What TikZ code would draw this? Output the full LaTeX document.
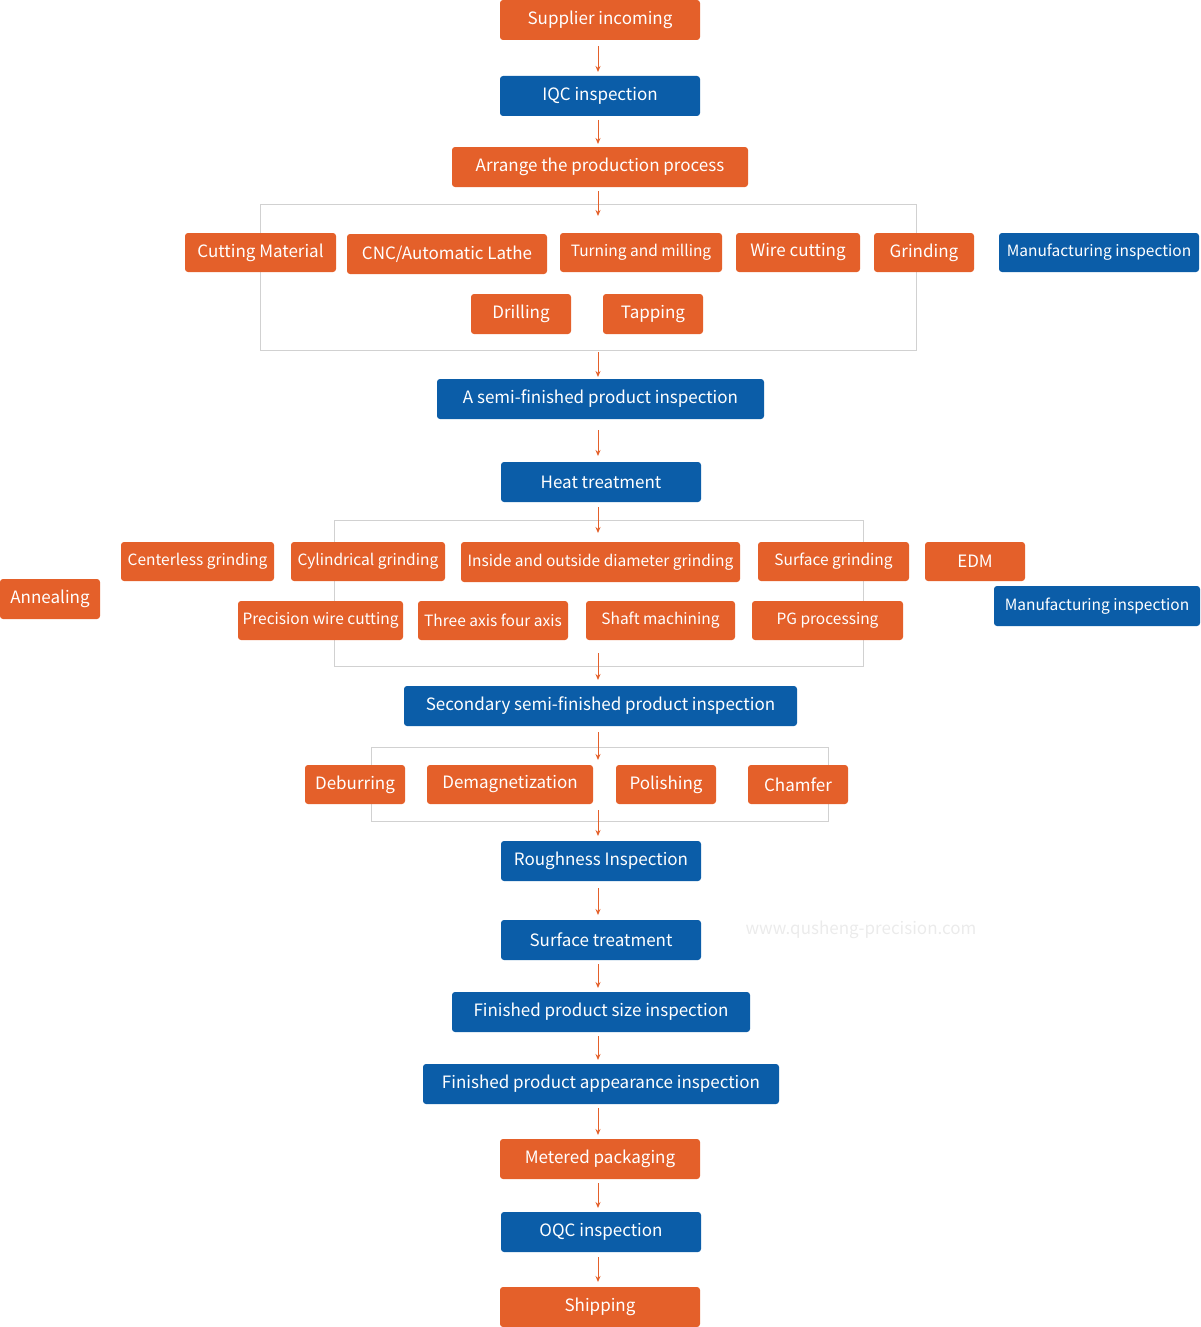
\documentclass[tikz,border=0pt]{standalone}
\usepackage{fontspec}
\setmainfont{Noto Sans CJK SC}
\usetikzlibrary{arrows.meta}
\definecolor{org}{HTML}{E4602A}
\definecolor{blu}{HTML}{0B5DA8}
\tikzset{bx/.style={rounded corners=3pt,text=white,inner sep=0pt,align=center},
 frm/.style={draw=black!18,line width=0.8pt},
 arr/.style={draw=org,line width=1pt,-{Stealth[length=6pt,width=5pt]}}}
\newcommand{\B}[8][17]{\node[bx,fill=#7,minimum width={(#4-#2)*1pt},minimum height={(#5-#3)*1pt},font=\fontsize{#1pt}{#1pt}\selectfont] (#6) at ({(#2+#4)/2},{(#3+#5)/2}) {\raisebox{-2.5pt}{#8}};}
\begin{document}
\begin{tikzpicture}[x=1pt,y=-1pt]
\useasboundingbox (0,0) rectangle (1201,1327);
\draw[frm] (260,204) rectangle (916,350);
\draw[frm] (334,520) rectangle (863,666);
\draw[frm] (371,747) rectangle (828,821);
\B{500}{0}{700}{40}{sup}{org}{Supplier incoming}
\B{500}{76}{700}{116}{iqc}{blu}{IQC inspection}
\B{452}{147}{748}{187}{arr}{org}{Arrange the production process}
\B{185}{233}{336}{272}{cut}{org}{Cutting Material}
\B{347}{234}{547}{274}{cnc}{org}{CNC/Automatic Lathe}
\B[15.5]{560}{233}{722}{272}{turn}{org}{Turning and milling}
\B{736}{233}{860}{272}{wire}{org}{Wire cutting}
\B{874}{233}{974}{272}{grind}{org}{Grinding}
\B[15.5]{999}{233}{1199}{272}{mi1}{blu}{Manufacturing inspection}
\B{471}{294}{571}{334}{drill}{org}{Drilling}
\B{603}{294}{703}{334}{tap}{org}{Tapping}
\B{437}{379}{764}{419}{semi}{blu}{A semi-finished product inspection}
\B{501}{462}{701}{502}{heat}{blu}{Heat treatment}
\B[15.5]{121}{542}{274}{581}{cent}{org}{Centerless grinding}
\B[15.5]{291}{542}{445}{581}{cyl}{org}{Cylindrical grinding}
\B[15.5]{461}{542}{740}{582}{ins}{org}{Inside and outside diameter grinding}
\B[15.5]{758}{542}{909}{581}{surf}{org}{Surface grinding}
\B{925}{542}{1025}{581}{edm}{org}{EDM}
\B{0}{579}{100}{619}{ann}{org}{Annealing}
\B[15.5]{994}{586}{1200}{626}{mi2}{blu}{Manufacturing inspection}
\B[15.5]{238}{601}{403}{640}{prec}{org}{Precision wire cutting}
\B[15.5]{418}{601}{568}{640}{three}{org}{Three axis four axis}
\B[15.5]{586}{601}{735}{640}{shaft}{org}{Shaft machining}
\B[15.5]{752}{601}{903}{640}{pg}{org}{PG processing}
\B{404}{686}{797}{726}{sec}{blu}{Secondary semi-finished product inspection}
\B{305}{765}{405}{804}{deb}{org}{Deburring}
\B{427}{765}{593}{804}{dem}{org}{Demagnetization}
\B{616}{765}{716}{804}{pol}{org}{Polishing}
\B{748}{765}{848}{804}{cham}{org}{Chamfer}
\B{501}{841}{701}{881}{rough}{blu}{Roughness Inspection}
\B{501}{920}{701}{960}{st}{blu}{Surface treatment}
\B{452}{992}{750}{1032}{fs}{blu}{Finished product size inspection}
\B{423}{1064}{779}{1104}{fa}{blu}{Finished product appearance inspection}
\B{500}{1139}{700}{1179}{met}{org}{Metered packaging}
\B{501}{1212}{701}{1252}{oqc}{blu}{OQC inspection}
\B{500}{1287}{700}{1327}{ship}{org}{Shipping}
\node[text=black!8,font=\fontsize{17pt}{17pt}\selectfont] (wm) at (861,930) {www.qusheng-precision.com};
\coordinate (a1) at (598,216); \coordinate (a2) at (598,352); \coordinate (a3) at (598,533);
\coordinate (a4) at (598,653); \coordinate (a5) at (598,760); \coordinate (a6) at (598,810);
\coordinate (a0) at (598,430); \coordinate (a7) at (598,456);
\draw[arr] (598,46) -- (598,72);
\draw[arr] (598,120) -- (598,144);
\draw[arr] (598,191) -- (a1);
\draw[arr] (a2) -- (598,377);
\draw[arr] (a0) -- (a7);
\draw[arr] (598,507) -- (a3);
\draw[arr] (a4) -- (598,680);
\draw[arr] (598,732) -- (a5);
\draw[arr] (a6) -- (598,836);
\draw[arr] (598,888) -- (598,915);
\draw[arr] (598,964) -- (598,988);
\draw[arr] (598,1036) -- (598,1060);
\draw[arr] (598,1108) -- (598,1135);
\draw[arr] (598,1183) -- (598,1208);
\draw[arr] (598,1257) -- (598,1282);
\end{tikzpicture}
\end{document}
